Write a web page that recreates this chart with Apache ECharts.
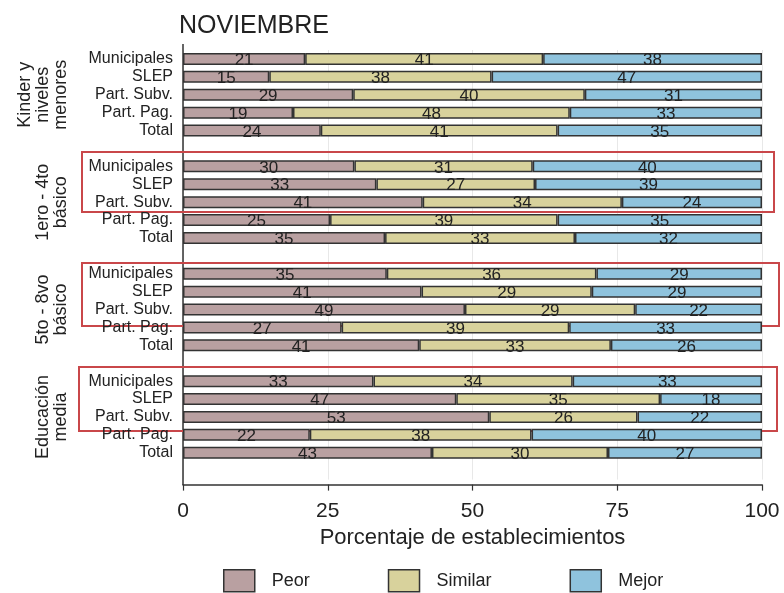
<!DOCTYPE html>
<html>
<head>
<meta charset="utf-8">
<script src="https://cdn.jsdelivr.net/npm/echarts@6/dist/echarts.min.js"></script>
<style>
  html, body { margin: 0; background: #fff; }
  #chart { width: 784px; height: 593px; }
</style>
</head>
<body>
<div id="chart"></div>
<script>
const grupos = ['Kinder y\nniveles\nmenores', '1ero - 4to\nbásico', '5to - 8vo\nbásico', 'Educación\nmedia']
const tipos = ['Municipales', 'SLEP', 'Part. Subv.', 'Part. Pag.', 'Total']
// porcentajes por grupo (filas) y tipo de establecimiento (columnas)
const peor = [
  [21.1, 14.9, 29.4, 19.0, 23.8],
  [29.6, 33.4, 41.4, 25.4, 34.9],
  [35.2, 41.2, 48.7, 27.4, 40.8],
  [32.9, 47.2, 52.9, 21.9, 43.0]
]
const similar = [
  [41.1, 38.4, 40.0, 47.8, 40.9],
  [30.8, 27.4, 34.4, 39.3, 32.8],
  [36.2, 29.4, 29.4, 39.3, 33.1],
  [34.4, 35.2, 25.6, 38.3, 30.4]
]
const mejor = [
  [37.8, 46.7, 30.6, 33.2, 35.3],
  [39.6, 39.2, 24.2, 35.3, 32.3],
  [28.6, 29.4, 21.9, 33.3, 26.1],
  [32.7, 17.6, 21.5, 39.8, 26.6]
]
const xTicks = [0, 25, 50, 75, 100]

const font = "'Liberation Sans', Arial, sans-serif"

// categorias: cada grupo + una fila vacia de separacion
const cats = []
grupos.forEach((g, i) => {
  tipos.forEach(t => cats.push(i + '|' + t))
  cats.push(i + '|')
})
const flat = arr => {
  const out = []
  arr.forEach(row => { row.forEach(v => out.push(v)); out.push(null) })
  return out
}

const chart = echarts.init(document.getElementById('chart'))

const serie = (name, data, color) => ({
  name: name,
  type: 'bar',
  stack: 'total',
  barWidth: 12,
  data: flat(data),
  itemStyle: { color: color, borderColor: '#333', borderWidth: 1.5 },
  label: {
    show: true,
    position: 'inside',
    offset: [0, 1.5],
    formatter: p => p.value == null ? '' : Math.round(p.value),
    fontSize: 17,
    color: '#222',
    fontFamily: font
  },
  silent: true,
  animation: false
})

chart.setOption({
  backgroundColor: '#ffffff',
  animation: false,
  title: {
    text: 'NOVIEMBRE',
    left: 174,
    top: 9,
    textStyle: { fontSize: 25, fontWeight: 'normal', color: '#222', fontFamily: font }
  },
  grid: { left: 183, right: 22, top: 50, height: 429.6 },
  xAxis: {
    type: 'value',
    min: xTicks[0],
    max: xTicks[xTicks.length - 1],
    interval: 25,
    offset: 5,
    axisLine: { show: true, lineStyle: { color: '#333', width: 1.5 } },
    axisTick: { show: true, length: 6, lineStyle: { color: '#333', width: 1.2 } },
    axisLabel: { fontSize: 21, color: '#222', margin: 16, fontFamily: font },
    splitLine: { show: true, lineStyle: { color: '#e8e8e8', width: 1 } },
    name: 'Porcentaje de establecimientos',
    nameLocation: 'middle',
    nameGap: 40,
    nameTextStyle: { fontSize: 22, color: '#222', fontFamily: font }
  },
  yAxis: {
    type: 'category',
    inverse: true,
    data: cats,
    axisLine: { show: false },
    axisTick: { show: false },
    axisLabel: {
      formatter: v => v.split('|')[1],
      fontSize: 16,
      color: '#222',
      margin: 10,
      interval: 0,
      fontFamily: font
    }
  },
  legend: {
    data: ['Peor', 'Similar', 'Mejor'],
    left: 223,
    top: 569,
    padding: 0,
    icon: 'rect',
    itemWidth: 31,
    itemHeight: 22,
    itemGap: 78,
    itemStyle: { borderColor: '#333', borderWidth: 1.5 },
    textStyle: { fontSize: 18, color: '#222', fontFamily: font, padding: [0, 0, 0, 12] }
  },
  series: [
    serie('Peor', peor, '#b9a0a1'),
    serie('Similar', similar, '#d8d29c'),
    serie('Mejor', mejor, '#8fc3dd')
  ]
})

// eje vertical, etiquetas de grupo y recuadros rojos
const x0 = chart.convertToPixel({ xAxisIndex: 0 }, 0)
const graphics = [{
  type: 'line',
  shape: { x1: x0, y1: 44, x2: x0, y2: 485 },
  style: { stroke: '#333', lineWidth: 1.5 }
}]
grupos.forEach((g, i) => {
  const yc = chart.convertToPixel({ yAxisIndex: 0 }, i * 6 + 2)
  graphics.push({
    type: 'text',
    x: 70,
    y: yc,
    rotation: Math.PI / 2,
    style: {
      text: g,
      fontSize: 18,
      fontFamily: font,
      fill: '#222',
      align: 'center',
      verticalAlign: 'bottom',
      lineHeight: 18
    }
  })
})
const boxes = [[82, 152, 692, 60], [82, 263, 697, 63], [79, 367, 698, 64]]
boxes.forEach(b => {
  graphics.push({
    type: 'rect',
    shape: { x: b[0], y: b[1], width: b[2], height: b[3] },
    style: { fill: null, stroke: '#c9474a', lineWidth: 2 }
  })
})
chart.setOption({ graphic: graphics })
</script>
</body>
</html>
